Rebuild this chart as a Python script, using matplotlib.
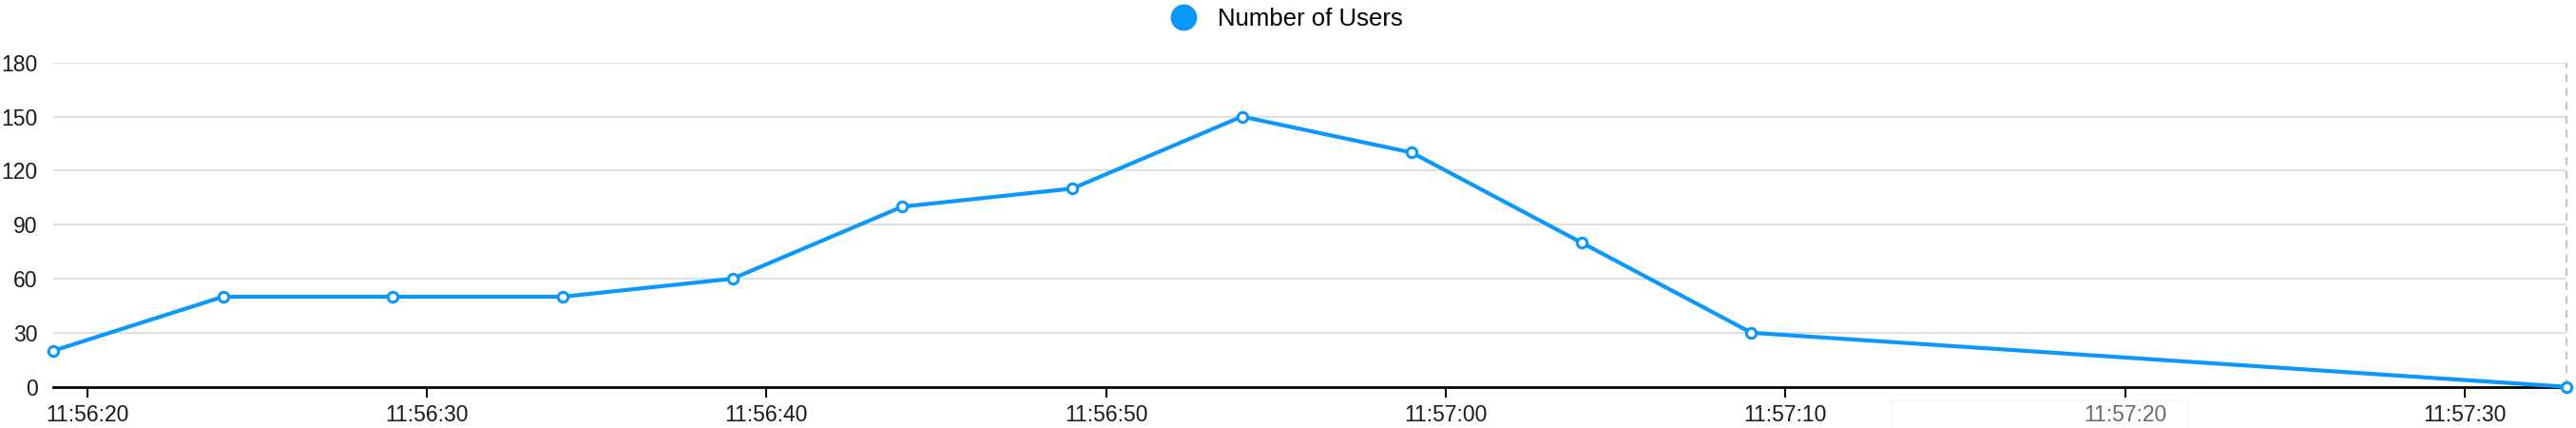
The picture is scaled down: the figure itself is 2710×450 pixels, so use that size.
import matplotlib
matplotlib.use("Agg")
import matplotlib.pyplot as plt
from matplotlib.ticker import MultipleLocator, FuncFormatter
from matplotlib.patches import FancyBboxPatch

plt.rcParams['font.family'] = ['Liberation Sans', 'DejaVu Sans']

# data
times = ["11:56:19", "11:56:24", "11:56:29", "11:56:34", "11:56:39", "11:56:44",
         "11:56:49", "11:56:54", "11:56:59", "11:57:04", "11:57:09", "11:57:33"]
users = [20, 50, 50, 50, 60, 100, 110, 150, 130, 80, 30, 0]
yticks = [0, 30, 60, 90, 120, 150, 180]
series_name = "Number of Users"

blue = "#0c97fb"


def to_sec(t):
    h, m, s = t.split(":")
    return int(h) * 3600 + int(m) * 60 + int(s)


def fmt_time(v, pos):
    v = int(round(v))
    return "%d:%02d:%02d" % (v // 3600, (v % 3600) // 60, v % 60)


x = [to_sec(t) for t in times]

fig = plt.figure(figsize=(27.1, 4.5), dpi=100)
ax = fig.add_axes([0.0207, 0.0963, 0.9756, 0.7577])

ax.plot(x, users, color=blue, lw=3.0, marker="o", markersize=7.5,
        markerfacecolor="white", markeredgecolor=blue, markeredgewidth=2.2,
        clip_on=False, zorder=5)

ax.set_xlim(x[0], x[-1])
ax.set_ylim(0, 180)
ax.set_yticks(yticks)
for yv in yticks[1:]:
    ax.axhline(yv, color="#e0e0e0", lw=1.5, zorder=1)

for s in ["top", "right", "left"]:
    ax.spines[s].set_visible(False)
ax.spines["bottom"].set_color("black")
ax.spines["bottom"].set_linewidth(2)
ax.spines["bottom"].set_zorder(4)

ax.xaxis.set_major_locator(MultipleLocator(10))
ax.xaxis.set_major_formatter(FuncFormatter(fmt_time))
ax.tick_params(axis="x", length=8, width=1.5, color="black", labelsize=16.5,
               pad=5, labelcolor="#1a1a1a")
ax.tick_params(axis="y", length=0, labelsize=16.5, pad=12, labelcolor="#1a1a1a")

# hover pointer line at last point
ax.axvline(x[-1], color="#c0c4d4", lw=1.5, ls=(0, (4, 3)), zorder=2, clip_on=False)

# legend
fig.legend([plt.Line2D([], [], ls="", marker="o", markersize=19, color=blue)],
           [series_name], loc="center", bbox_to_anchor=(0.4995, 0.955),
           frameon=False, fontsize=18.5, handletextpad=0.9, handlelength=1.0)

# faint tooltip box overlapping the bottom labels
tip = FancyBboxPatch((1990 / 2710, -0.05), 312 / 2710, (450 - 421) / 450 + 0.05,
                     boxstyle="round,pad=0,rounding_size=0.004",
                     transform=fig.transFigure, facecolor="white", alpha=0.35,
                     edgecolor="#ececec", lw=1.5, zorder=10)
fig.patches.append(tip)

fig.savefig("out.png", dpi=100)
